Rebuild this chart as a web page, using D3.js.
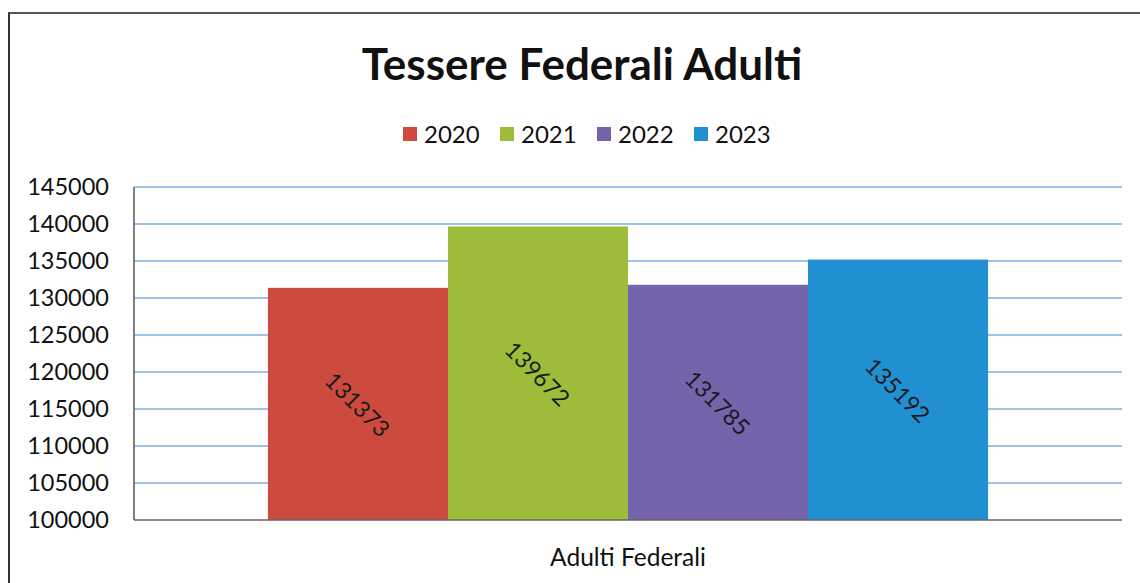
<!DOCTYPE html>
<html><head><meta charset="utf-8">
<script src="https://cdn.jsdelivr.net/npm/d3@7"></script>
<style>html,body{margin:0;padding:0;background:#fff;}svg{display:block;}</style>
</head><body>
<script>
const title = "Tessere Federali Adulti";
const categories = ["Adulti Federali"];
const series = ["2020", "2021", "2022", "2023"];
const values = [131373, 139672, 131785, 135192];
const colors = ["#cc4a3e", "#9dbd3a", "#7563ab", "#2190d3"];
const yTicks = [100000, 105000, 110000, 115000, 120000, 125000, 130000, 135000, 140000, 145000];

const W = 1140, H = 583;
const font = "Lato, 'Open Sans', sans-serif";
const svg = d3.select("body").append("svg").attr("width", W).attr("height", H);

// frame
svg.append("line").attr("x1", 8).attr("x2", W).attr("y1", 13).attr("y2", 13).attr("stroke", "#555").attr("stroke-width", 2);
svg.append("line").attr("x1", 9).attr("x2", 9).attr("y1", 13).attr("y2", H).attr("stroke", "#333").attr("stroke-width", 2);

const m = {left: 134, right: 1122, top: 187, bottom: 520};
const y = d3.scaleLinear().domain([100000, 145000]).range([m.bottom, m.top]);
const x0 = d3.scaleBand().domain(categories).range([m.left, m.right]).paddingInner(0).paddingOuter(0.186);
const x1 = d3.scaleBand().domain(series).range([0, x0.bandwidth()]).padding(0);

// gridlines
svg.append("g").selectAll("line").data(yTicks.slice(1)).join("line")
  .attr("x1", m.left).attr("x2", m.right)
  .attr("y1", d => y(d)).attr("y2", d => y(d))
  .attr("stroke", "#7fb0e0").attr("stroke-width", 1.5);

// y axis labels
const yAxis = d3.axisLeft(y).tickValues(yTicks).tickSize(0).tickPadding(25).tickFormat(d3.format("d"));
const gy = svg.append("g").attr("transform", `translate(${m.left},0)`).call(yAxis);
gy.select(".domain").remove();
gy.selectAll("text").attr("font-family", font).attr("font-size", 23.5).attr("fill", "#111");

// bars
const data = series.map((s, i) => ({cat: categories[0], s, v: values[i], c: colors[i]}));
const bars = svg.append("g");
bars.selectAll("rect").data(data).join("rect")
  .attr("x", d => x0(d.cat) + x1(d.s))
  .attr("y", d => y(d.v))
  .attr("width", x1.bandwidth())
  .attr("height", d => y(100000) - y(d.v))
  .attr("fill", d => d.c);

// labels
bars.selectAll("text").data(data).join("text")
  .attr("transform", d => `translate(${x0(d.cat) + x1(d.s) + x1.bandwidth() / 2},${(y(d.v) + y(100000)) / 2}) rotate(45)`)
  .attr("text-anchor", "middle").attr("dominant-baseline", "central")
  .attr("font-family", font).attr("font-size", 23).attr("fill", "#1a1a1a")
  .text(d => d.v);

// axes lines
svg.append("line").attr("x1", m.left).attr("x2", m.left).attr("y1", m.top).attr("y2", m.bottom).attr("stroke", "#555").attr("stroke-width", 1.5);
svg.append("line").attr("x1", m.left).attr("x2", m.right).attr("y1", m.bottom).attr("y2", m.bottom).attr("stroke", "#666").attr("stroke-width", 1.5);

// x label
svg.append("text").attr("x", x0(categories[0]) + x0.bandwidth() / 2).attr("y", 566)
  .attr("text-anchor", "middle").attr("font-family", font).attr("font-size", 24.5).attr("fill", "#111")
  .text(categories[0]);

// title
svg.append("text").attr("x", 582).attr("y", 80).attr("text-anchor", "middle")
  .attr("font-family", font).attr("font-weight", "bold").attr("font-size", 44).attr("fill", "#111")
  .text(title);

// legend
const legX = [403, 500, 597, 694];
const lg = svg.append("g").selectAll("g").data(series).join("g")
  .attr("transform", (d, i) => `translate(${legX[i]},127)`);
lg.append("rect").attr("width", 14).attr("height", 14).attr("fill", (d, i) => colors[i]);
lg.append("text").attr("x", 21).attr("y", 16).attr("font-family", font).attr("font-size", 24).attr("fill", "#111").text(d => d);
</script>
</body></html>
